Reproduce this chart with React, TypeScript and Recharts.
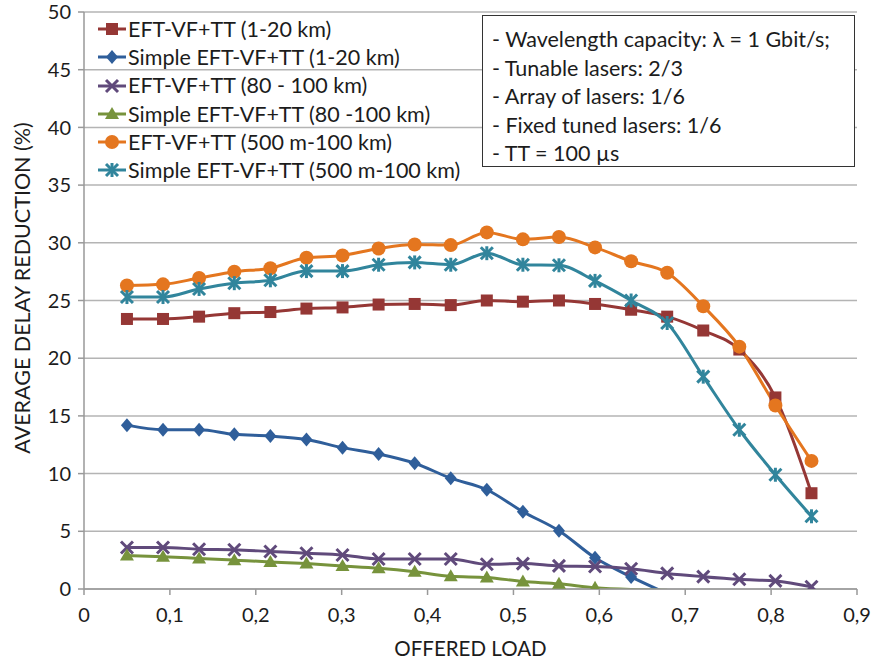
import React from "react"
import {
    LineChart,
    Line,
    XAxis,
    YAxis,
    CartesianGrid,
    Legend
} from "recharts"

// offered load values shared by every series
const loads = [0.05, 0.092, 0.134, 0.175, 0.217, 0.259, 0.301, 0.343, 0.385, 0.427, 0.469, 0.511, 0.553, 0.595, 0.637, 0.679, 0.721, 0.763, 0.805, 0.847]

const eft1to20 = [23.4, 23.4, 23.6, 23.9, 24.0, 24.3, 24.4, 24.65, 24.7, 24.6, 25.0, 24.9, 25.0, 24.7, 24.2, 23.6, 22.4, 20.75, 16.6, 8.3]
const simple1to20 = [14.2, 13.8, 13.8, 13.4, 13.25, 12.95, 12.25, 11.7, 10.9, 9.6, 8.6, 6.7, 5.05, 2.7, 1.05, -0.4]
const eft80to100 = [3.6, 3.6, 3.45, 3.4, 3.25, 3.1, 2.95, 2.6, 2.6, 2.6, 2.15, 2.2, 2.0, 1.95, 1.75, 1.35, 1.07, 0.84, 0.7, 0.2]
const simple80to100 = [2.9, 2.8, 2.65, 2.5, 2.35, 2.2, 2.0, 1.8, 1.5, 1.1, 1.0, 0.65, 0.45, 0.1, -0.05, -0.1]
const eft500to100 = [26.3, 26.4, 26.95, 27.5, 27.8, 28.7, 28.9, 29.5, 29.85, 29.8, 30.9, 30.3, 30.5, 29.6, 28.4, 27.4, 24.5, 21.0, 15.9, 11.1]
const simple500to100 = [25.3, 25.3, 26.0, 26.5, 26.75, 27.55, 27.55, 28.1, 28.3, 28.1, 29.1, 28.1, 28.05, 26.7, 25.0, 23.05, 18.4, 13.8, 9.9, 6.3]

const xTicks = [0, 0.1, 0.2, 0.3, 0.4, 0.5, 0.6, 0.7, 0.8, 0.9]
const yTicks = [0, 5, 10, 15, 20, 25, 30, 35, 40, 45, 50]

const notes = [
    "- Wavelength capacity: \u03bb = 1 Gbit/s;",
    "- Tunable lasers: 2/3",
    "- Array of lasers: 1/6",
    "- Fixed tuned lasers: 1/6",
    "- TT = 100 \u00b5s"
]

type Shape = "square" | "diamond" | "cross" | "triangle" | "circle" | "star"

const series: { key: string; name: string; color: string; shape: Shape; values: number[] }[] = [
    { key: "eft1to20", name: "EFT-VF+TT (1-20 km)", color: "#953735", shape: "square", values: eft1to20 },
    { key: "simple1to20", name: "Simple EFT-VF+TT (1-20 km)", color: "#2f5e9a", shape: "diamond", values: simple1to20 },
    { key: "eft80to100", name: "EFT-VF+TT (80 - 100 km)", color: "#604a7b", shape: "cross", values: eft80to100 },
    { key: "simple80to100", name: "Simple EFT-VF+TT (80 -100 km)", color: "#77933c", shape: "triangle", values: simple80to100 },
    { key: "eft500to100", name: "EFT-VF+TT (500 m-100 km)", color: "#e4761f", shape: "circle", values: eft500to100 },
    { key: "simple500to100", name: "Simple EFT-VF+TT (500 m-100 km)", color: "#31859c", shape: "star", values: simple500to100 }
]

const data = loads.map((x, i) => {
    const row: Record<string, number | null> = { x }
    series.forEach((s) => {
        row[s.key] = i < s.values.length ? s.values[i] : null
    })
    return row
})

const FONT = "Lato, 'Liberation Sans', sans-serif"
const TEXT = "#1c1c1c"

function Marker({ shape, color, cx, cy }: { shape: Shape; color: string; cx: number; cy: number }) {
    switch (shape) {
        case "square":
            return <rect x={cx - 6} y={cy - 6} width={12} height={12} fill={color} />
        case "diamond":
            return <polygon points={`${cx},${cy - 7} ${cx + 6},${cy} ${cx},${cy + 7} ${cx - 6},${cy}`} fill={color} />
        case "triangle":
            return <polygon points={`${cx},${cy - 7} ${cx + 7},${cy + 5} ${cx - 7},${cy + 5}`} fill={color} />
        case "circle":
            return <circle cx={cx} cy={cy} r={7} fill={color} />
        case "cross":
            return (
                <g stroke={color} strokeWidth={3}>
                    <line x1={cx - 6} y1={cy - 6} x2={cx + 6} y2={cy + 6} />
                    <line x1={cx - 6} y1={cy + 6} x2={cx + 6} y2={cy - 6} />
                </g>
            )
        default:
            return (
                <g stroke={color} strokeWidth={3}>
                    <line x1={cx - 6} y1={cy - 6} x2={cx + 6} y2={cy + 6} />
                    <line x1={cx - 6} y1={cy + 6} x2={cx + 6} y2={cy - 6} />
                    <line x1={cx} y1={cy - 7} x2={cx} y2={cy + 7} />
                </g>
            )
    }
}

// points below zero sit outside the axis, so no marker is drawn for them
const makeDot = (shape: Shape, color: string) => (props: any) => {
    const { cx, cy, value, index } = props
    if (value == null || value < 0 || cx == null || cy == null) return <g key={index} />
    return (
        <g key={index}>
            <Marker shape={shape} color={color} cx={cx} cy={cy} />
        </g>
    )
}

const LegendList = () => (
    <div style={{ fontFamily: FONT, fontSize: 21.5, color: TEXT, lineHeight: "28.2px" }}>
        {series.map((s) => (
            <div key={s.key} style={{ display: "flex", alignItems: "center", whiteSpace: "nowrap" }}>
                <svg width={30} height={16} style={{ marginRight: 1, flexShrink: 0 }}>
                    <line x1={1} y1={8} x2={29} y2={8} stroke={s.color} strokeWidth={3} />
                    <Marker shape={s.shape} color={s.color} cx={15} cy={8} />
                </svg>
                <span>{s.name}</span>
            </div>
        ))}
    </div>
)

// rotated y-axis title, sitting left of the tick labels
const YTitle = () => (
    <text
        x={22}
        y={288}
        transform="rotate(-90 22 288)"
        textAnchor="middle"
        dominantBaseline="central"
        fill={TEXT}
        fontSize={21.5}
        fontFamily={FONT}
    >
        AVERAGE DELAY REDUCTION (%)
    </text>
)

export default function App() {
    return (
        <div style={{ position: "absolute", left: 0, top: 0, width: 874, height: 661, background: "#fff" }}>
            <LineChart
                width={874}
                height={661}
                data={data}
                margin={{ top: 12, right: 17, bottom: 0, left: 0 }}
            >
                <CartesianGrid vertical={false} stroke="#b4b4b4" strokeWidth={1.5} />
                <XAxis
                    type="number"
                    dataKey="x"
                    domain={[0, 0.9]}
                    ticks={xTicks}
                    interval={0}
                    height={72}
                    tickFormatter={(v: number) => String(v).replace(".", ",")}
                    stroke="#999"
                    strokeWidth={1.5}
                    tickSize={6}
                    tickMargin={13}
                    tick={{ fill: TEXT, fontSize: 20, fontFamily: FONT }}
                    label={{ value: "OFFERED LOAD", position: "insideBottom", offset: 5, fill: TEXT, fontSize: 20.5, fontFamily: FONT }}
                />
                <YAxis
                    type="number"
                    domain={[0, 50]}
                    ticks={yTicks}
                    interval={0}
                    allowDataOverflow
                    width={84}
                    stroke="#999"
                    strokeWidth={1.5}
                    tickSize={6}
                    tickMargin={7}
                    tick={{ fill: TEXT, fontSize: 20, fontFamily: FONT }}
                    label={{ content: () => <YTitle /> }}
                />
                <Legend
                    layout="vertical"
                    verticalAlign="top"
                    align="left"
                    wrapperStyle={{ top: 15, left: 97, width: 0, height: 0, overflow: "visible" }}
                    content={<LegendList />}
                />
                {series.map((s) => (
                    <Line
                        key={s.key}
                        type="monotone"
                        dataKey={s.key}
                        name={s.name}
                        stroke={s.color}
                        strokeWidth={3}
                        dot={makeDot(s.shape, s.color)}
                        activeDot={false}
                        isAnimationActive={false}
                    />
                ))}
            </LineChart>
            <div
                style={{
                    position: "absolute",
                    left: 482,
                    top: 15,
                    width: 373,
                    height: 152,
                    boxSizing: "border-box",
                    border: "1.5px solid #333",
                    background: "#fff",
                    padding: "9px 0 0 9px",
                    fontFamily: FONT,
                    fontSize: 21.5,
                    color: TEXT,
                    lineHeight: "28.5px",
                    whiteSpace: "nowrap"
                }}
            >
                {notes.map((n) => (
                    <div key={n}>{n}</div>
                ))}
            </div>
        </div>
    )
}
